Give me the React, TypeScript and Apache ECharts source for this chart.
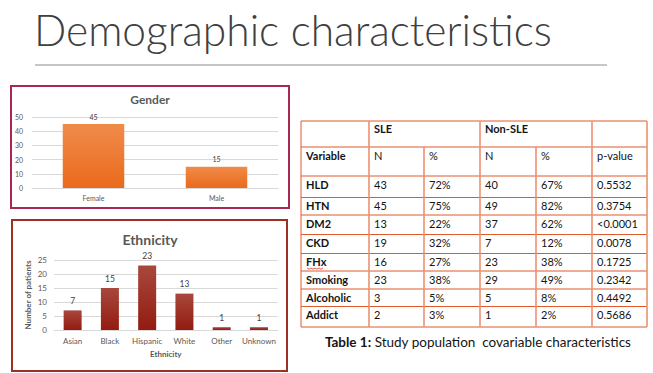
import React, { useEffect, useRef } from "react";
import * as echarts from "echarts";

// ---- data ----
const genderCategories = ["Female", "Male"];
const genderValues = [45, 15];

const ethnicityCategories = ["Asian", "Black", "Hispanic", "White", "Other", "Unknown"];
const ethnicityValues = [7, 15, 23, 13, 1, 1];

const tableVariables = ["HLD", "HTN", "DM2", "CKD", "FHx", "Smoking", "Alcoholic", "Addict"];
const sleN = ["43", "45", "13", "19", "16", "23", "3", "2"];
const slePct = ["72%", "75%", "22%", "32%", "27%", "38%", "5%", "3%"];
const nonSleN = ["40", "49", "37", "7", "23", "29", "5", "1"];
const nonSlePct = ["67%", "82%", "62%", "12%", "38%", "49%", "8%", "2%"];
const pValues = ["0.5532", "0.3754", "<0.0001", "0.0078", "0.1725", "0.2342", "0.4492", "0.5686"];
const tableHeaderGroups = ["SLE", "Non-SLE"];
const tableSubHeaders = ["Variable", "N", "%", "N", "%", "p-value"];

// ---- layout ----
const colX = [301, 369, 424, 480, 536, 592, 647];
const rowY = [121, 147, 176, 197.5, 215, 234.5, 253.5, 271, 289, 306.5, 327];
const FONT = "Lato, 'Open Sans', sans-serif";

function buildTable(): any[] {
  const els: any[] = [];
  const hColor = "#E05A2C";
  const vColor = "#EC9170";
  rowY.forEach((y) => {
    els.push({
      type: "line",
      shape: { x1: colX[0], y1: y, x2: colX[6], y2: y },
      style: { stroke: hColor, lineWidth: 1 },
    });
  });
  colX.forEach((x, i) => {
    const start = i === 2 || i === 4 ? rowY[1] : rowY[0];
    els.push({
      type: "line",
      shape: { x1: x, y1: start, x2: x, y2: rowY[rowY.length - 1] },
      style: { stroke: i === 0 ? hColor : vColor, lineWidth: i === 0 ? 1 : 1.6 },
    });
  });
  const txt = (s: string, x: number, y: number, bold: boolean) => ({
    type: "text",
    x: x + 5,
    y: y + 8,
    style: {
      text: s,
      fill: "#141414",
      font: `${bold ? "bold " : ""}11px ${FONT}`,
      textAlign: "left",
      textVerticalAlign: "middle",
    },
  });
  els.push(txt(tableHeaderGroups[0], colX[1], rowY[0] - 1, true));
  els.push(txt(tableHeaderGroups[1], colX[3], rowY[0] - 1, true));
  tableSubHeaders.forEach((h, i) => els.push(txt(h, colX[i], rowY[1], i === 0)));
  tableVariables.forEach((v, r) => {
    const y = rowY[r + 2];
    const cells = [v, sleN[r], slePct[r], nonSleN[r], nonSlePct[r], pValues[r]];
    cells.forEach((c, i) => els.push(txt(c, colX[i], y, i === 0)));
  });
  // spell-check squiggle under "FHx"
  const fi = tableVariables.indexOf("FHx");
  if (fi >= 0) {
    const y0 = rowY[fi + 2] + 14.5;
    const pts: number[][] = [];
    for (let k = 0; k <= 8; k++) pts.push([colX[0] + 6 + k * 2, y0 + (k % 2 === 0 ? 0 : 1.2)]);
    els.push({ type: "polyline", shape: { points: pts }, style: { stroke: "#E03030", lineWidth: 0.8, fill: null } });
  }
  return els;
}

export default function App() {
  const ref = useRef<HTMLDivElement>(null);
  useEffect(() => {
    if (!ref.current) return;
    const chart = echarts.init(ref.current, undefined, { renderer: "svg" });
    const axisLabelColor = "#595959";
    const gridLineColor = "#D9D9D9";
    const option: any = {
      animation: false,
      backgroundColor: "#ffffff",
      grid: [
        { left: 32, top: 117, width: 246, height: 71 },
        { left: 54, top: 260, width: 223.6, height: 70 },
      ],
      xAxis: [
        {
          type: "category",
          gridIndex: 0,
          data: genderCategories,
          axisLine: { lineStyle: { color: gridLineColor } },
          axisTick: { show: false },
          axisLabel: { color: axisLabelColor, fontSize: 7, fontFamily: FONT, margin: 6, interval: 0 },
        },
        {
          type: "category",
          gridIndex: 1,
          data: ethnicityCategories,
          name: "Ethnicity",
          nameLocation: "middle",
          nameGap: 20,
          nameTextStyle: { color: axisLabelColor, fontSize: 8, fontWeight: "bold", fontFamily: FONT },
          axisLine: { lineStyle: { color: gridLineColor } },
          axisTick: { show: false },
          axisLabel: { color: axisLabelColor, fontSize: 8, fontFamily: FONT, margin: 7, interval: 0 },
        },
      ],
      yAxis: [
        {
          type: "value",
          gridIndex: 0,
          min: 0,
          max: 50,
          interval: 10,
          axisLine: { show: false },
          axisTick: { show: false },
          splitLine: { lineStyle: { color: gridLineColor } },
          axisLabel: { color: axisLabelColor, fontSize: 7, fontFamily: FONT, margin: 9 },
        },
        {
          type: "value",
          gridIndex: 1,
          min: 0,
          max: 25,
          interval: 5,
          name: "Number of patients",
          nameLocation: "middle",
          nameGap: 22,
          nameRotate: 90,
          nameTextStyle: { color: axisLabelColor, fontSize: 8, fontWeight: "bold", fontFamily: FONT },
          axisLine: { show: false },
          axisTick: { show: false },
          splitLine: { lineStyle: { color: gridLineColor } },
          axisLabel: { color: axisLabelColor, fontSize: 8, fontFamily: FONT, margin: 7 },
        },
      ],
      series: [
        {
          type: "bar",
          xAxisIndex: 0,
          yAxisIndex: 0,
          data: genderValues,
          barWidth: "50%",
          itemStyle: {
            color: new echarts.graphic.LinearGradient(0, 0, 0, 1, [
              { offset: 0, color: "#F08B4A" },
              { offset: 1, color: "#EA6A1C" },
            ]),
          },
          label: { show: true, position: "top", distance: 4, color: "#404040", fontSize: 7, fontFamily: FONT },
        },
        {
          type: "bar",
          xAxisIndex: 1,
          yAxisIndex: 1,
          data: ethnicityValues,
          barWidth: 18,
          itemStyle: {
            color: new echarts.graphic.LinearGradient(0, 0, 0, 1, [
              { offset: 0, color: "#A8483D" },
              { offset: 1, color: "#931B10" },
            ]),
          },
          label: { show: true, position: "top", distance: 5, color: "#404040", fontSize: 8.5, fontFamily: FONT },
        },
      ],
      graphic: [
        {
          type: "text",
          x: 34,
          y: 29,
          style: {
            text: "Demographic characteristics",
            fill: "#404040",
            font: `300 42.5px ${FONT}`,
            textAlign: "left",
            textVerticalAlign: "middle",
          },
        },
        {
          type: "line",
          shape: { x1: 35, y1: 65, x2: 607, y2: 65 },
          style: { stroke: "#8C8C8C", lineWidth: 1 },
        },
        {
          type: "rect",
          shape: { x: 11, y: 86, width: 278, height: 122 },
          style: { fill: null, stroke: "#A8294F", lineWidth: 2 },
        },
        {
          type: "text",
          x: 150,
          y: 99,
          style: { text: "Gender", fill: "#595959", font: `bold 12px ${FONT}`, textAlign: "center", textVerticalAlign: "middle" },
        },
        {
          type: "rect",
          shape: { x: 12, y: 220, width: 275, height: 151 },
          style: { fill: null, stroke: "#9E2F24", lineWidth: 2 },
        },
        {
          type: "text",
          x: 150,
          y: 239,
          style: { text: "Ethnicity", fill: "#595959", font: `bold 14px ${FONT}`, textAlign: "center", textVerticalAlign: "middle" },
        },
        ...buildTable(),
        {
          type: "text",
          x: 478,
          y: 342,
          style: {
            text: "{b|Table 1:} {r|Study population  covariable characteristics}",
            textAlign: "center",
            textVerticalAlign: "middle",
            rich: {
              b: { fontWeight: "bold", fontSize: 13.5, fontFamily: FONT, fill: "#141414", color: "#141414" },
              r: { fontSize: 13.5, fontFamily: FONT, fill: "#141414", color: "#141414" },
            },
          },
        },
      ],
    };
    chart.setOption(option);
    return () => chart.dispose();
  }, []);
  return <div ref={ref} style={{ position: "fixed", left: 0, top: 0, width: 653, height: 373 }} />;
}
